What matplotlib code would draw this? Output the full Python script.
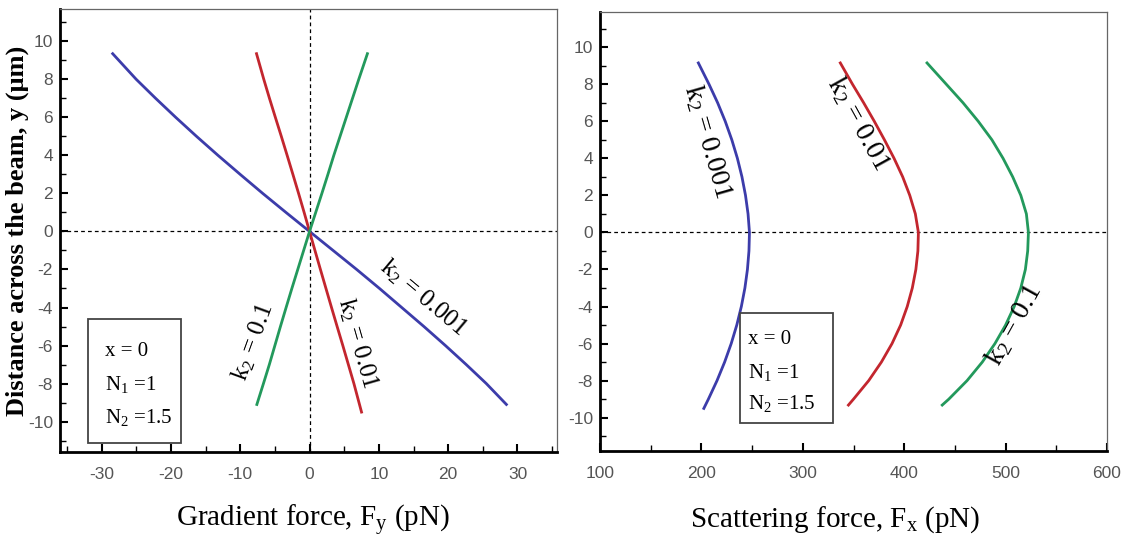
import numpy as np
import matplotlib.pyplot as plt
from matplotlib.patches import Rectangle
from matplotlib.ticker import MultipleLocator

plt.rcParams['mathtext.fontset'] = 'custom'
plt.rcParams['mathtext.rm'] = 'Liberation Serif'
plt.rcParams['mathtext.it'] = 'Liberation Serif:italic'
plt.rcParams['axes.unicode_minus'] = False

# Gradient force F_y (pN) against y (um)
y_grad_001 = [9.35, 8, 7, 6, 5, 4, 3, 2, 1, 0, -1, -2, -3, -4, -5, -6, -7, -8, -9.1]
fy_001 = [-28.4, -25.0, -22.2, -19.3, -16.3, -13.2, -10.0, -6.75, -3.4, 0,
          3.4, 6.8, 10.1, 13.3, 16.5, 19.6, 22.6, 25.5, 28.4]
y_grad_01 = [9.35, 8, 7, 6, 5, 4, 3, 2, 1, 0, -1, -2, -3, -4, -5, -6, -7, -8, -9.5]
fy_01 = [-7.65, -6.6, -5.78, -4.93, -4.07, -3.23, -2.4, -1.58, -0.78, 0,
         0.78, 1.57, 2.37, 3.17, 3.98, 4.8, 5.6, 6.4, 7.5]
y_grad_1 = [-9.1, -8, -7, -6, -5, -4, -3, -2, -1, 0, 1, 2, 3, 4, 5, 6, 7, 8, 9.35]
fy_1 = [-7.6, -6.65, -5.8, -5.0, -4.2, -3.38, -2.55, -1.7, -0.85, 0,
        0.89, 1.78, 2.65, 3.5, 4.4, 5.3, 6.2, 7.1, 8.35]

# Scattering force F_x (pN) against y (um)
y_scat_001 = [9.15, 8, 7, 6, 5, 4, 3, 2, 1, 0, -1, -2, -3, -4, -5, -6, -7, -8, -9, -9.5]
fx_001 = [197, 207.5, 216, 223.5, 230, 235.5, 240, 243.5, 246, 247.4,
          246.9, 245.4, 242.9, 239.4, 234.9, 229.4, 222.9, 215.4, 206.9, 202.4]
y_scat_01 = [9.15, 8, 7, 6, 5, 4, 3, 2, 1, 0, -1, -2, -3, -4, -5, -6, -7, -8, -9, -9.32]
fx_01 = [337, 349, 360, 370.5, 380.5, 390, 398.5, 405.5, 411, 414,
         413.5, 411.5, 408, 403, 396.5, 388, 377.5, 365, 350, 345]
y_scat_1 = [9.15, 8, 7, 6, 5, 4, 3, 2, 1, 0, -1, -2, -3, -4, -5, -6, -7, -8, -9, -9.32]
fx_1 = [422.5, 441.5, 458, 473, 486.5, 497.5, 507, 515, 520.5, 522.5,
        521.8, 519.5, 515, 508.5, 500, 489.5, 477, 462, 444, 437.5]

c_blue = '#3c3caa'
c_red = '#c3262e'
c_green = '#23995c'
serif = 'Liberation Serif'

fig = plt.figure(figsize=(11.29, 5.40), dpi=100)
W, H = 1129, 540


def px_box(x0, y0, x1, y1):
    return [x0 / W, 1 - y1 / H, (x1 - x0) / W, (y1 - y0) / H]


ax1 = fig.add_axes(px_box(60, 9, 557, 452))
ax2 = fig.add_axes(px_box(600, 12, 1107, 451))

for ax in (ax1, ax2):
    for s in ('left', 'bottom'):
        ax.spines[s].set_linewidth(2)
        ax.spines[s].set_color('black')
    for s in ('top', 'right'):
        ax.spines[s].set_linewidth(0.9)
        ax.spines[s].set_color('#666666')
    ax.tick_params(which='both', direction='in', top=False, right=False,
                   labelcolor='#555555', labelsize=12.5)
    ax.tick_params(which='major', length=6, width=1.5)
    ax.tick_params(which='minor', length=4, width=1)
    ax.tick_params(axis='x', pad=11)
    ax.tick_params(axis='y', pad=5)
    ax.yaxis.set_major_locator(MultipleLocator(2))
    ax.yaxis.set_minor_locator(MultipleLocator(1))
    for lab in ax.get_xticklabels() + ax.get_yticklabels():
        lab.set_family('Liberation Sans')
    ax.axhline(0, color='black', lw=0.9, ls=(0, (3, 2.5)), zorder=1)

# left panel
ax1.axvline(0, color='black', lw=0.9, ls=(0, (3, 2.5)), zorder=1)
ax1.plot(fy_001, y_grad_001, color=c_blue, lw=2)
ax1.plot(fy_01, y_grad_01, color=c_red, lw=2)
ax1.plot(fy_1, y_grad_1, color=c_green, lw=2)
ax1.set_xlim(-36, 35.7)
ax1.set_ylim(-11.6, 11.7)
ax1.xaxis.set_major_locator(MultipleLocator(10))
ax1.xaxis.set_minor_locator(MultipleLocator(5))
ax1.set_xlabel(r'Gradient force, F$_\mathrm{y}$ (pN)', family=serif, fontsize=21, va='center')
ax1.xaxis.set_label_coords(0.509, -0.1535)
ax1.set_ylabel('Distance across the beam, y (\u03bcm)', family=serif,
               fontsize=19, fontweight='bold')
ax1.yaxis.set_label_coords(-0.062, 0.5)

ax1.text(16.4, -3.45, r'k$_2$ = 0.001', family=serif, fontsize=18,
         rotation=-40, rotation_mode='anchor', ha='center', va='center')
ax1.text(7.0, -5.9, r'k$_2$ = 0.01', family=serif, fontsize=18,
         rotation=-74, rotation_mode='anchor', ha='center', va='center')
ax1.text(-8.2, -5.83, r'k$_2$ = 0.1', family=serif, fontsize=18,
         rotation=70, rotation_mode='anchor', ha='center', va='center')

# right panel
ax2.plot(fx_001, y_scat_001, color=c_blue, lw=2)
ax2.plot(fx_01, y_scat_01, color=c_red, lw=2)
ax2.plot(fx_1, y_scat_1, color=c_green, lw=2)
ax2.set_xlim(100, 600)
ax2.set_ylim(-11.8, 11.9)
ax2.xaxis.set_major_locator(MultipleLocator(100))
ax2.xaxis.set_minor_locator(MultipleLocator(50))
ax2.set_xlabel(r'Scattering force, F$_\mathrm{x}$ (pN)', family=serif, fontsize=21, va='center')
ax2.xaxis.set_label_coords(0.463, -0.157)

ax2.text(206, 4.9, r'k$_2$ = 0.001', family=serif, fontsize=20,
         rotation=-74, rotation_mode='anchor', ha='center', va='center')
ax2.text(355, 5.9, r'k$_2$ = 0.01', family=serif, fontsize=20,
         rotation=-61, rotation_mode='anchor', ha='center', va='center')
ax2.text(508, -5.0, r'k$_2$ = 0.1', family=serif, fontsize=20,
         rotation=61, rotation_mode='anchor', ha='center', va='center')

# parameter boxes
for (bx0, by0, bx1, by1), tx, rows in (((88, 319, 181, 443), 105, (351.7, 384.5, 417)),
                                        ((740, 313, 833, 423), 748, (339.7, 372.4, 403.4))):
    fig.patches.append(Rectangle((bx0 / W, 1 - by1 / H), (bx1 - bx0) / W, (by1 - by0) / H,
                                 transform=fig.transFigure, fill=True, facecolor='white',
                                 edgecolor='#444444', lw=1.3, zorder=5))
    for row, s in zip(rows, ('x = 0', r'N$_1$ =1', r'N$_2$ =1.5')):
        fig.text(tx / W, 1 - row / H, s, family=serif, fontsize=15,
                 ha='left', va='center', zorder=6)

fig.savefig('out.png', dpi=100)
